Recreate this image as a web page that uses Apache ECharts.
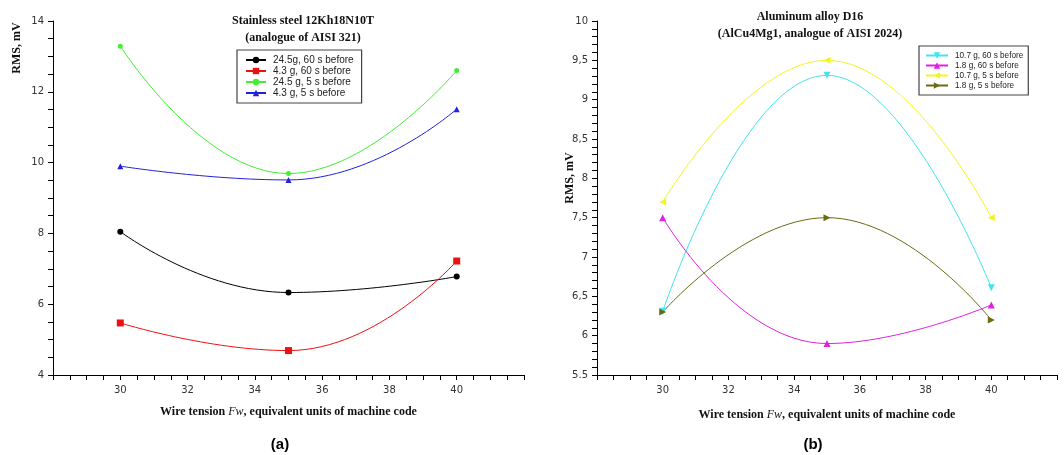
<!DOCTYPE html>
<html><head><meta charset="utf-8">
<script src="https://cdn.jsdelivr.net/npm/echarts@6/dist/echarts.min.js"></script>
<style>html,body{margin:0;padding:0;background:#fff}#c{width:1064px;height:455px}</style>
</head><body><div id="c"></div>
<script>
// ---- data ----
const xValues = [30, 35, 40];
// (a) Stainless steel
const steelNames = ['24.5g, 60 s before', '4.3 g, 60 s before', '24.5 g, 5 s before', '4.3 g, 5 s before'];
const steel_245_60 = [8.05, 6.33, 6.78];
const steel_43_60 = [5.47, 4.69, 7.22];
const steel_245_5 = [13.29, 9.69, 12.6];
const steel_43_5 = [9.9, 9.51, 11.51];
// (b) Aluminum alloy
const aluNames = ['10.7 g, 60 s before', '1.8 g, 60 s before', '10.7 g, 5 s before', '1.8 g, 5 s before'];
const alu_107_60 = [6.31, 9.31, 6.61];
const alu_18_60 = [7.5, 5.9, 6.39];
const alu_107_5 = [7.7, 9.5, 7.5];
const alu_18_5 = [6.3, 7.5, 6.2];
// tick labels
const xTickValues = [30, 32, 34, 36, 38, 40];
const xTickLabels = ['30', '32', '34', '36', '38', '40'];
const leftYTickValues = [4, 6, 8, 10, 12, 14];
const leftYTickLabels = ['4', '6', '8', '10', '12', '14'];
const rightYTickValues = [5.5, 6, 6.5, 7, 7.5, 8, 8.5, 9, 9.5, 10];
const rightYTickLabels = ['5.5', '6', '6,5', '7', '7,5', '8', '8,5', '9', '9,5', '10'];

const pairs = (ys) => xValues.map((x, i) => [x, ys[i]]);
const serif = '"Liberation Serif", "DejaVu Serif", serif';
const sans = '"DejaVu Sans", "Liberation Sans", sans-serif';
const legendFont = '"Liberation Sans", Arial, sans-serif';
const lookup = (vals, labels) => (v) => {
  const i = vals.findIndex(t => Math.abs(t - v) < 1e-6);
  return i >= 0 ? labels[i] : '';
};

function xAxisCfg(gi, gap) {
  return {
    type: 'value', gridIndex: gi, min: 28, max: 42, interval: 0.5,
    axisLine: { lineStyle: { color: '#000', width: 1 } },
    axisTick: { length: 5, lineStyle: { color: '#000', width: 1 } },
    splitLine: { show: false },
    axisLabel: {
      color: '#333', fontFamily: sans, fontSize: 10, margin: 10,
      formatter: lookup(xTickValues, xTickLabels)
    },
    name: '{n|Wire tension }{i|Fw}{n|, equivalent units of machine code}',
    nameLocation: 'middle', nameGap: gap,
    nameTextStyle: {
      rich: {
        n: { fontFamily: serif, fontWeight: 'bold', fontSize: 12, color: '#111' },
        i: { fontFamily: serif, fontStyle: 'italic', fontSize: 12, color: '#111' }
      }
    }
  };
}

function line(name, data, color, xi, symbol, size, rot) {
  return {
    name, type: 'line', xAxisIndex: xi, yAxisIndex: xi, data: pairs(data),
    smooth: 0.5, symbol, symbolSize: size, symbolRotate: rot || 0,
    showAllSymbol: true,
    lineStyle: { color, width: 1 }, itemStyle: { color }, emphasis: { disabled: true }
  };
}

const chart = echarts.init(document.getElementById('c'), null, { renderer: 'canvas' });
chart.setOption({
  animation: false,
  backgroundColor: '#fff',
  title: [
    { text: 'Stainless steel 12Kh18N10T\n(analogue of AISI 321)', left: 298, top: 7, textAlign: 'center',
      textStyle: { fontFamily: serif, fontWeight: 'bold', fontSize: 12, lineHeight: 17, color: '#111' } },
    { text: 'Aluminum alloy D16\n(AlCu4Mg1, analogue of AISI 2024)', left: 805, top: 3, textAlign: 'center',
      textStyle: { fontFamily: serif, fontWeight: 'bold', fontSize: 12, lineHeight: 17, color: '#111' } },
    { text: '(a)', left: 275, top: 432, textAlign: 'center',
      textStyle: { fontFamily: '"Liberation Sans", Arial, sans-serif', fontWeight: 'bold', fontSize: 15, color: '#000' } },
    { text: '(b)', left: 808, top: 432, textAlign: 'center',
      textStyle: { fontFamily: '"Liberation Sans", Arial, sans-serif', fontWeight: 'bold', fontSize: 15, color: '#000' } }
  ],
  legend: [
    { data: steelNames, orient: 'vertical', left: 237, top: 50, itemWidth: 20, itemHeight: 8, itemGap: 1,
      padding: [5, 8, 5, 8], borderColor: '#444', borderWidth: 1.2,
      textStyle: { fontFamily: legendFont, fontSize: 10, color: '#222', padding: [0, 0, 0, 2] } },
    { data: aluNames, orient: 'vertical', left: 919, top: 46, itemWidth: 22, itemHeight: 8, itemGap: 1,
      padding: [5, 5, 5, 6], borderColor: '#444', borderWidth: 1.2,
      textStyle: { fontFamily: legendFont, fontSize: 8.2, lineHeight: 9, color: '#222', padding: [0, 0, 0, 2] } }
  ],
  grid: [
    { left: 53, right: 540, top: 21, bottom: 80 },
    { left: 597, right: 7, top: 21, bottom: 80 }
  ],
  xAxis: [xAxisCfg(0, 31), xAxisCfg(1, 34)],
  yAxis: [
    { type: 'value', gridIndex: 0, min: 4, max: 14, interval: 0.5,
      axisLine: { show: true, lineStyle: { color: '#000' } },
      axisTick: { show: true, length: 5, lineStyle: { color: '#000', width: 1 } },
      splitLine: { show: false },
      axisLabel: { color: '#333', fontFamily: sans, fontSize: 10, margin: 9,
        formatter: lookup(leftYTickValues, leftYTickLabels) } },
    { type: 'value', gridIndex: 1, min: 5.5, max: 10, interval: 0.1,
      axisLine: { show: true, lineStyle: { color: '#000' } },
      axisTick: { show: true, length: 5, lineStyle: { color: '#000', width: 1 } },
      splitLine: { show: false },
      axisLabel: { color: '#333', fontFamily: sans, fontSize: 10, margin: 9,
        formatter: lookup(rightYTickValues, rightYTickLabels) } }
  ],
  graphic: [
    { type: 'text', x: 17, y: 48, rotation: Math.PI / 2,
      style: { text: 'RMS, mV', font: 'bold 12px ' + serif, fill: '#111', align: 'center', verticalAlign: 'middle' } },
    { type: 'text', x: 570, y: 178, rotation: Math.PI / 2,
      style: { text: 'RMS, mV', font: 'bold 12px ' + serif, fill: '#111', align: 'center', verticalAlign: 'middle' } }
  ],
  series: [
    line(steelNames[0], steel_245_60, '#000000', 0, 'circle', 6),
    line(steelNames[1], steel_43_60, '#ee1111', 0, 'rect', 7),
    line(steelNames[2], steel_245_5, '#44ee33', 0, 'circle', 5),
    line(steelNames[3], steel_43_5, '#2222dd', 0, 'triangle', 6),
    line(aluNames[0], alu_107_60, '#44e4ee', 1, 'triangle', 7, 180),
    line(aluNames[1], alu_18_60, '#e022e0', 1, 'triangle', 7),
    line(aluNames[2], alu_107_5, '#f4f422', 1, 'triangle', 7, 90),
    line(aluNames[3], alu_18_5, '#6b6b12', 1, 'triangle', 7, -90)
  ]
});
</script></body></html>
